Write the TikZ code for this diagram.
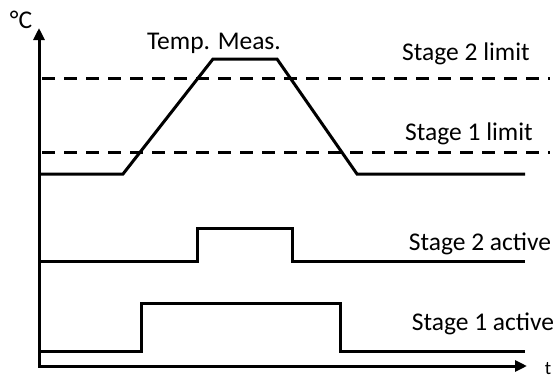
\documentclass[tikz,border=0pt]{standalone}
\usepackage{fontspec}
\setmainfont{Carlito}
\usetikzlibrary{arrows.meta}
\tikzstyle{signal} = [line width=3pt, line join=miter]
\tikzstyle{limit} = [line width=3pt, dash pattern=on 13pt off 9pt]
\tikzstyle{arrow} = [line width=3pt,{Triangle[length=12pt,width=11pt]}-{Triangle[length=12pt,width=11pt]}]
\tikzstyle{label} = [font=\fontsize{25.5}{30}\selectfont, inner sep=0pt]

\begin{document}
\begin{tikzpicture}[x=1pt,y=-1pt]
\useasboundingbox (0,0) rectangle (558,380);
% axes
\coordinate (o) at (39,366);
\coordinate (yt) at (39,28);
\coordinate (xt) at (527,366);
\draw[arrow] (yt) -- (o) -- (xt);
\node[label] (deg) at (21,20) {°C};
\node[label, font=\fontsize{19}{22}\selectfont] (t) at (548,369) {t};
% limits
\draw[limit] (42,78) -- (550,78);
\draw[limit] (42,152) -- (550,152);
\node[label] (l2) at (466,54) {Stage 2 limit};
\node[label] (l1) at (469,134) {Stage 1 limit};
% temperature
\draw[signal] (40,174) -- (123,174) -- (213,59) -- (277,59) -- (357,174) -- (525,174);
\node[label] (meas) at (214,43) {Temp. Meas.};
% stage signals
\draw[signal] (40,261) -- (197,261) -- (197,228) -- (292,228) -- (292,261) -- (525,261);
\node[label] (a2) at (480,244) {Stage 2 active};
\draw[signal] (40,351) -- (141,351) -- (141,303) -- (340,303) -- (340,351) -- (525,351);
\node[label] (a1) at (483,324) {Stage 1 active};
\end{tikzpicture}
\end{document}
